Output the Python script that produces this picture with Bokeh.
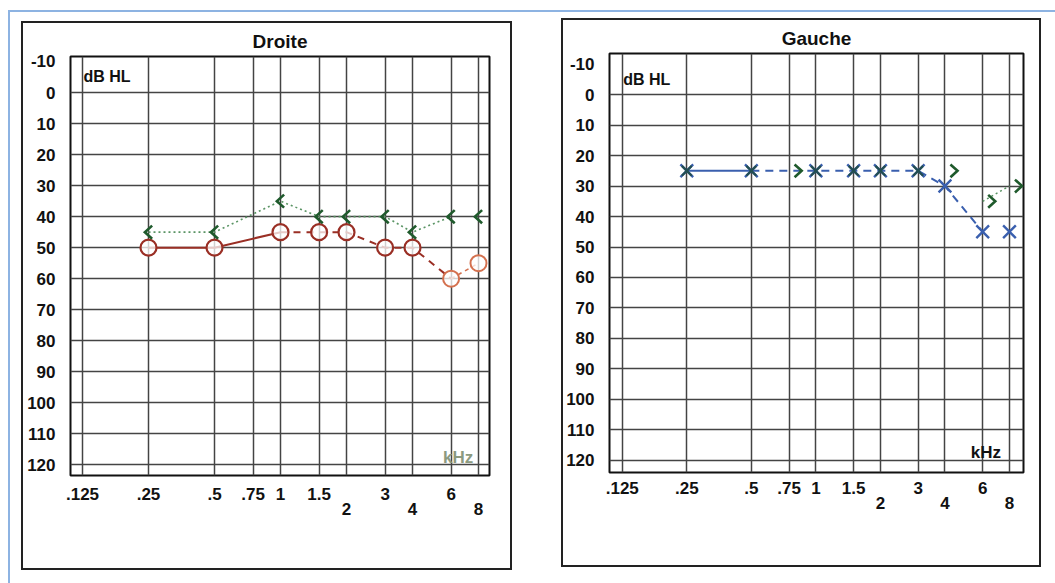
import numpy as np
from bokeh.plotting import figure
from bokeh.models import FixedTicker, Range1d, LogAxis
from bokeh.layouts import row
from bokeh.embed import file_html
from bokeh.resources import INLINE
from bokeh.core.properties import value

# ---------------- data ----------------
grid_freqs = [0.125, 0.25, 0.5, 0.75, 1, 1.5, 2, 3, 4, 6, 8]
upper_ticks = [0.125, 0.25, 0.5, 0.75, 1, 1.5, 3, 6]
upper_labels = [".125", ".25", ".5", ".75", "1", "1.5", "3", "6"]
lower_ticks = [2, 4, 8]
lower_labels = ["2", "4", "8"]
db_ticks = [-10, 0, 10, 20, 30, 40, 50, 60, 70, 80, 90, 100, 110, 120]
db_labels = ["-10", "0", "10", "20", "30", "40", "50", "60", "70", "80", "90", "100", "110", "120"]

titles = ["Droite", "Gauche"]
db_label = "dB HL"
unit_label = "kHz"

# right ear (Droite): air conduction O, bone conduction <
right_freq = [0.25, 0.5, 1, 1.5, 2, 3, 4, 6, 8]
right_air = [50, 50, 45, 45, 45, 50, 50, 60, 55]
right_bone_freq = [0.25, 0.5, 1, 1.5, 2, 3, 4, 6, 8]
right_bone = [45, 45, 35, 40, 40, 40, 45, 40, 40]

# left ear (Gauche): air conduction X, bone conduction >
left_freq = [0.25, 0.5, 1, 1.5, 2, 3, 4, 6, 8]
left_air = [25, 25, 25, 25, 25, 25, 30, 45, 45]
left_bone_freq = [0.75, 4, 6, 8]
left_bone = [25, 25, 35, 30]

FONT = "Liberation Sans"
GRID = "#444444"


def chevrons(freqs, dbs, pointing, shift=0.0, half_w=0.055, half_h=2.1):
    xs, ys = [], []
    for f, d in zip(freqs, dbs):
        tip = f * 2 ** (shift + pointing * half_w)
        arm = f * 2 ** (shift - pointing * half_w)
        xs.append([arm, tip, arm])
        ys.append([d - half_h, d, d + half_h])
    return xs, ys


def make_panel(title, w, h, borders, xr, yr, kcolor, kx_off, title_standoff, std1, std2):
    bl, br, bt, bb = borders
    p = figure(width=w, height=h, x_axis_type="log",
               x_range=Range1d(*xr), y_range=Range1d(*yr),
               output_backend="svg", toolbar_location=None,
               min_border_left=bl, min_border_right=br,
               min_border_top=bt, min_border_bottom=bb,
               background_fill_color="white", border_fill_color="white")
    p.title.text = title
    p.title.align = "center"
    p.title.text_font = FONT
    p.title.text_font_size = "19px"
    p.title.text_font_style = "bold"
    p.title.text_color = "#111111"
    p.title.standoff = title_standoff

    p.outline_line_color = "#111111"
    p.outline_line_width = 2

    # y axis
    p.yaxis.ticker = FixedTicker(ticks=db_ticks)
    p.yaxis.major_label_overrides = {t: l for t, l in zip(db_ticks, db_labels)}
    p.yaxis.axis_line_color = None
    p.yaxis.major_tick_line_color = None
    p.yaxis.minor_tick_line_color = None
    p.yaxis.major_label_text_font = FONT
    p.yaxis.major_label_text_font_size = "17px"
    p.yaxis.major_label_text_font_style = "bold"
    p.yaxis.major_label_text_color = "#111111"
    p.yaxis.major_label_standoff = 9

    # x axis, upper row of labels
    xa = p.xaxis[0]
    xa.ticker = FixedTicker(ticks=upper_ticks)
    xa.major_label_overrides = {t: l for t, l in zip(upper_ticks, upper_labels)}
    xa.axis_line_color = None
    xa.major_tick_line_color = None
    xa.minor_tick_line_color = None
    xa.major_label_text_font = FONT
    xa.major_label_text_font_size = "17px"
    xa.major_label_text_font_style = "bold"
    xa.major_label_text_color = "#111111"
    xa.major_label_standoff = std1

    # lower row of labels (2, 4, 8)
    xb = LogAxis(ticker=FixedTicker(ticks=lower_ticks),
                 major_label_overrides={t: l for t, l in zip(lower_ticks, lower_labels)},
                 axis_line_color=None, major_tick_line_color=None,
                 minor_tick_line_color=None,
                 major_label_text_font=FONT, major_label_text_font_size="17px",
                 major_label_text_font_style="bold", major_label_text_color="#111111",
                 major_label_standoff=std2)
    p.add_layout(xb, "below")

    p.xgrid.ticker = FixedTicker(ticks=grid_freqs)
    p.ygrid.ticker = FixedTicker(ticks=db_ticks[1:])
    for g in (p.xgrid, p.ygrid):
        g.grid_line_color = GRID
        g.grid_line_width = 1.5
        g.grid_line_alpha = 1.0

    p.text(x=[grid_freqs[0]], y=[db_ticks[0] + 5], text=[db_label],
           text_font=value(FONT), text_font_style="bold", text_font_size="16px",
           text_align="left", text_baseline="middle", text_color="#111111", x_offset=1)
    p.text(x=[grid_freqs[-2]], y=[db_ticks[-1] - 2.5], text=[unit_label],
           text_font=value(FONT), text_font_style="bold", text_font_size="17px",
           text_align="left", text_baseline="middle", text_color=kcolor, x_offset=kx_off)
    return p


# ---------------- Droite ----------------
p1 = make_panel(titles[0], 491, 549, (47, 25, 33, 97), (0.1102, 8.98), (123.4, -11.6),
                "#8c9a80", -8, 9, 6, -6)

RED = "#9a2f25"
RED2 = "#d4714f"
GREEN = "#1f5a2c"
GREEN_L = "#5a9464"

# bone conduction dotted line and chevrons
p1.line(right_bone_freq[:8], right_bone[:8], line_color=GREEN_L, line_width=1.6,
        line_dash="2 3")
# air conduction lines
p1.line(right_freq[:3], right_air[:3], line_color=RED, line_width=2)
p1.line(right_freq[2:8], right_air[2:8], line_color=RED, line_width=2, line_dash="7 6")
p1.line(right_freq[7:], right_air[7:], line_color=RED2, line_width=1.6, line_dash="4 4")
p1.scatter(right_freq[:7], right_air[:7], marker="circle", size=16, line_color=RED,
           line_width=2.2, fill_color="white", fill_alpha=0.75)
p1.scatter(right_freq[7:], right_air[7:], marker="circle", size=16, line_color=RED2,
           line_width=2, fill_color="white", fill_alpha=0.75)
cx, cy = chevrons(right_bone_freq, right_bone, pointing=-1)
p1.multi_line(cx, cy, line_color=GREEN, line_width=2.6, line_join="miter")

# ---------------- Gauche ----------------
p2 = make_panel(titles[1], 480, 549, (44, 20, 33, 93), (0.109, 9.3), (124.0, -13.5),
                "#111111", -12, 9, 3, -6)

BLUE = "#3a5fae"
DKGREEN = "#1d4a3a"

p2.line(left_freq[:2], left_air[:2], line_color=BLUE, line_width=2)
p2.line(left_freq[1:8], left_air[1:8], line_color=BLUE, line_width=2, line_dash="8 6")
p2.line(left_bone_freq[2:], left_bone[2:], line_color=GREEN_L, line_width=1.5, line_dash="2 3")
p2.scatter(left_freq, left_air, marker="x", size=18, line_color=BLUE, line_width=2.4)
p2.scatter(left_freq[:6], left_air[:6], marker="x", size=14, line_color=DKGREEN,
           line_width=2.2, line_alpha=0.8)
gx, gy = chevrons(left_bone_freq, left_bone, pointing=1, shift=0.14)
p2.multi_line(gx, gy, line_color=GREEN, line_width=2.6, line_join="miter")

p1.styles = {"border": "2px solid #222222"}
p2.styles = {"border": "2px solid #222222"}
p1.margin = (9, 0, 13, 11)
p2.margin = (6, 14, 0, 49)

root = row(p1, p2)
root.styles = {"border-top": "2px solid #8db3e2", "border-left": "2px solid #8db3e2"}
root.margin = (10, 0, 0, 8)

open("out.html", "w").write(file_html(root, INLINE))
